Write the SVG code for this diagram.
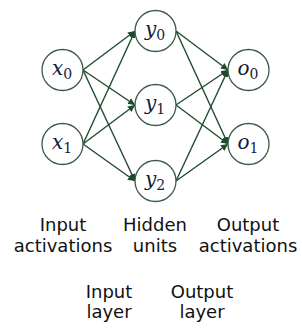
<svg xmlns="http://www.w3.org/2000/svg" width="302" height="329" viewBox="0 0 302 329">
<style>
.node{fill:#fff;stroke:#3d5a48;stroke-width:1.3}
.edge{stroke:#1f4a2f;stroke-width:1.4;fill:none;marker-end:url(#ah)}
.m{font-family:"DejaVu Serif","Liberation Serif",serif;font-style:italic;font-size:20px;fill:#141c3c;text-anchor:middle}
.s{font-size:14px;font-style:normal}
.lbl{font-family:"DejaVu Sans","Liberation Sans",sans-serif;font-size:18px;fill:#111;text-anchor:middle}
</style>
<defs>
<marker id="ah" viewBox="0 0 10 10" refX="10" refY="5" markerWidth="7" markerHeight="7" markerUnits="userSpaceOnUse" orient="auto">
<path d="M0,0L10,5L0,10z" fill="#1f4a2f"/>
</marker>
</defs>
<g id="connectors">
<line class="edge" x1="83" y1="70" x2="135" y2="31"/>
<line class="edge" x1="83" y1="70" x2="135" y2="105"/>
<line class="edge" x1="83" y1="70" x2="135" y2="181"/>
<line class="edge" x1="83" y1="144" x2="135" y2="31"/>
<line class="edge" x1="83" y1="144" x2="135" y2="105"/>
<line class="edge" x1="83" y1="144" x2="135" y2="181"/>
<line class="edge" x1="176" y1="31" x2="228" y2="70"/>
<line class="edge" x1="176" y1="31" x2="228" y2="144"/>
<line class="edge" x1="176" y1="105" x2="228" y2="70"/>
<line class="edge" x1="176" y1="105" x2="228" y2="144"/>
<line class="edge" x1="176" y1="181" x2="228" y2="70"/>
<line class="edge" x1="176" y1="181" x2="228" y2="144"/>
</g>
<g id="x0"><circle class="node" cx="62.5" cy="70" r="20.5"/><text class="m" x="62" y="75">x<tspan class="s" dy="4">0</tspan></text></g>
<g id="x1"><circle class="node" cx="62.5" cy="144" r="20.5"/><text class="m" x="62" y="149">x<tspan class="s" dy="4">1</tspan></text></g>
<g id="y0"><circle class="node" cx="155.5" cy="31" r="20.5"/><text class="m" x="155" y="36">y<tspan class="s" dy="4">0</tspan></text></g>
<g id="y1"><circle class="node" cx="155.5" cy="105" r="20.5"/><text class="m" x="155" y="110">y<tspan class="s" dy="4">1</tspan></text></g>
<g id="y2"><circle class="node" cx="155.5" cy="181" r="20.5"/><text class="m" x="155" y="186">y<tspan class="s" dy="4">2</tspan></text></g>
<g id="o0"><circle class="node" cx="248.5" cy="70" r="20.5"/><text class="m" x="248" y="75">o<tspan class="s" dy="4">0</tspan></text></g>
<g id="o1"><circle class="node" cx="248.5" cy="144" r="20.5"/><text class="m" x="248" y="149">o<tspan class="s" dy="4">1</tspan></text></g>
<g id="labels">
<text class="lbl" x="63" y="231">Input</text>
<text class="lbl" x="63" y="252">activations</text>
<text class="lbl" x="155" y="231">Hidden</text>
<text class="lbl" x="155" y="252">units</text>
<text class="lbl" x="248" y="231">Output</text>
<text class="lbl" x="248" y="252">activations</text>
<text class="lbl" x="109" y="298">Input</text>
<text class="lbl" x="109" y="318">layer</text>
<text class="lbl" x="202" y="298">Output</text>
<text class="lbl" x="202" y="318">layer</text>
</g>
</svg>
